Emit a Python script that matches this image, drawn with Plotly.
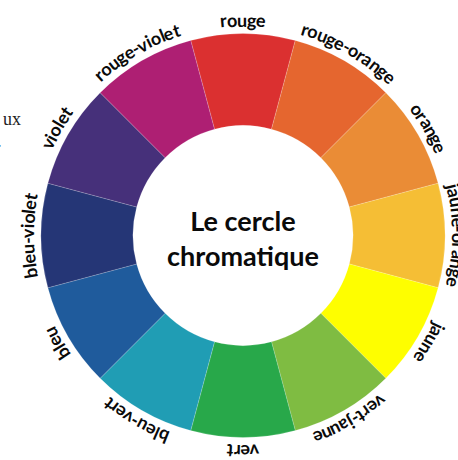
import math
import plotly.graph_objects as go

# ---- data ----
color_names = ["rouge", "rouge-orange", "orange", "jaune-orange", "jaune", "vert-jaune",
               "vert", "bleu-vert", "bleu", "bleu-violet", "violet", "rouge-violet"]
segment_values = [1, 1, 1, 1, 1, 1, 1, 1, 1, 1, 1, 1]
segment_colors = ["#DB3030", "#E5662F", "#EA8C36", "#F5BE35", "#FEFE00", "#7FBC42",
                  "#28A84A", "#209DB4", "#1F5B9C", "#253676", "#46307A", "#AE1F73"]
center_title = "Le cercle<br>chromatique"

W, H = 458, 460
CX, CY = 243, 235.5      # wheel centre (px, y down)
R_OUT = 202
HOLE = 0.545
R_LAB = 216
FS = 18
FONT = "Lato"

# approximate advance widths (em) for bold humanist sans
CW = {"a": 0.51, "b": 0.56, "c": 0.46, "e": 0.53, "g": 0.51, "i": 0.26, "j": 0.26,
      "l": 0.26, "n": 0.56, "o": 0.56, "r": 0.38, "t": 0.37, "u": 0.56, "v": 0.52,
      "-": 0.34}

fig = go.Figure(go.Pie(
    labels=color_names, values=segment_values,
    marker=dict(colors=segment_colors, line=dict(color="rgba(255,255,255,0.35)", width=0.5)),
    hole=HOLE, sort=False, direction="clockwise", rotation=-15,
    textinfo="none", hoverinfo="label", showlegend=False,
    domain=dict(x=[(CX - R_OUT) / W, (CX + R_OUT) / W],
                y=[1 - (CY + R_OUT) / H, 1 - (CY - R_OUT) / H]),
))

ann = []
n = len(color_names)
for i, name in enumerate(color_names):
    theta_c = math.radians(360 / n * i)
    widths = [CW.get(ch, 0.5) * FS for ch in name]
    total = sum(widths)
    s = 0.0
    for ch, w in zip(name, widths):
        phi = theta_c + (s + w / 2 - total / 2) / R_LAB
        s += w
        x = CX + R_LAB * math.sin(phi)
        y = CY - R_LAB * math.cos(phi)
        ang = math.degrees(phi) % 360
        if ang > 180:
            ang -= 360
        ann.append(dict(x=x / W, y=1 - y / H, xref="paper", yref="paper", text=ch,
                        showarrow=False, xanchor="center", yanchor="middle",
                        textangle=ang,
                        font=dict(family=FONT, size=FS, color="#0a0a0a", weight="bold")))

ann.append(dict(x=CX / W, y=1 - 238 / H, xref="paper", yref="paper", text=center_title,
                showarrow=False, xanchor="center", yanchor="middle",
                font=dict(family=FONT, size=27, color="#0a0a0a", weight="bold")))
ann.append(dict(x=23 / W, y=1 - 119 / H, xref="paper", yref="paper", text="ux",
                showarrow=False, xanchor="right", yanchor="middle",
                font=dict(family="Liberation Serif", size=18, color="#222222")))
ann.append(dict(x=4 / W, y=1 - 141 / H, xref="paper", yref="paper", text=".",
                showarrow=False, xanchor="right", yanchor="middle",
                font=dict(family="Liberation Serif", size=18, color="#222222")))

fig.update_layout(width=W, height=H, margin=dict(l=0, r=0, t=0, b=0),
                  paper_bgcolor="white", plot_bgcolor="white", annotations=ann)
fig.write_html("out.html", config={"displayModeBar": False},
               post_script="document.body.style.margin='0';document.body.style.overflow='hidden';")
